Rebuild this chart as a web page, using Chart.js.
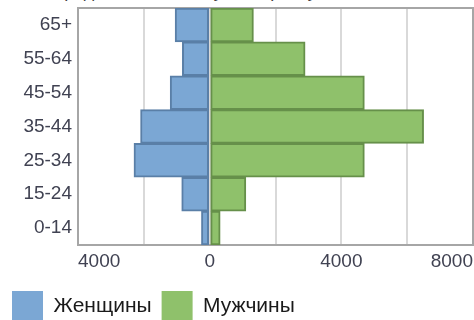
<!DOCTYPE html>
<html>
<head>
<meta charset="utf-8">
<script src="https://cdn.jsdelivr.net/npm/chart.js@4"></script>
<style>
  html, body { margin: 0; padding: 0; background: #fff; }
  #wrap { position: relative; width: 474px; height: 320px; overflow: hidden; }
  #title { position: absolute; left: 24px; top: -19px; font: 18px "Liberation Sans", Arial, sans-serif; color: #404040; white-space: nowrap; }
  #chart { position: absolute; left: 0; top: 0; }
</style>
</head>
<body>
<div id="wrap">
  <div id="title">Распределение по полу и возрасту, тыс. чел.</div>
  <canvas id="chart" width="474" height="332"></canvas>
</div>
<script>
// возрастные группы (сверху вниз)
const ageGroups = ['65+', '55-64', '45-54', '35-44', '25-34', '15-24', '0-14'];
// тыс. чел.
const women = [1050, 830, 1200, 2100, 2300, 850, 250];
const men = [1330, 2900, 4700, 6500, 4700, 1100, 320];
const xTicks = [-4000, 0, 4000, 8000];

const FONT = '"Liberation Sans", Arial, sans-serif';

// рамка области построения
const frame = {
    id: 'frame',
    beforeDatasetsDraw(chart) {
        const a = chart.chartArea;
        const ctx = chart.ctx;
        ctx.save();
        ctx.strokeStyle = '#a6a6a6';
        ctx.lineWidth = 2;
        ctx.strokeRect(a.left, a.top, a.right - a.left, a.bottom - a.top);
        ctx.restore();
    }
};

new Chart(document.getElementById('chart'), {
    type: 'bar',
    data: {
        labels: ageGroups,
        datasets: [
            {
                label: 'Женщины',
                data: women.map(v => -v),
                backgroundColor: '#7ba7d4',
                borderColor: '#5a7fa7',
                borderWidth: 2,
                borderSkipped: false
            },
            {
                label: 'Мужчины',
                data: men,
                backgroundColor: '#8fc16b',
                borderColor: '#66904a',
                borderWidth: 2,
                borderSkipped: false
            }
        ]
    },
    options: {
        indexAxis: 'y',
        responsive: false,
        animation: false,
        layout: { padding: { left: 2, right: 1, top: 8, bottom: 0 } },
        datasets: { bar: { barPercentage: 1, categoryPercentage: 1 } },
        scales: {
            x: {
                stacked: true,
                min: xTicks[0],
                max: xTicks[xTicks.length - 1],
                afterFit: s => { s.height = 36; s.paddingLeft = 0; s.paddingRight = 0; },
                border: { display: false },
                grid: { color: '#d9d9d9', lineWidth: 2, drawTicks: false },
                ticks: {
                    stepSize: 2000,
                    align: 'inner',
                    padding: 5,
                    color: '#404252',
                    font: { family: FONT, size: 19 },
                    callback: v => xTicks.includes(v) ? String(Math.abs(v)) : ''
                }
            },
            y: {
                stacked: true,
                afterFit: s => { s.width = 76; s.paddingTop = 0; s.paddingBottom = 0; },
                border: { display: false },
                grid: { display: false, drawTicks: false },
                ticks: {
                    padding: 6,
                    color: '#404252',
                    font: { family: FONT, size: 19 }
                }
            }
        },
        plugins: {
            tooltip: { enabled: false },
            legend: {
                position: 'bottom',
                align: 'start',
                labels: {
                    boxWidth: 31,
                    boxHeight: 31,
                    padding: 10,
                    color: '#1a1a1a',
                    font: { family: FONT, size: 21 },
                    generateLabels: chart => chart.data.datasets.map((d, i) => ({
                        text: d.label,
                        fillStyle: d.backgroundColor,
                        strokeStyle: d.backgroundColor,
                        lineWidth: 0,
                        fontColor: '#1a1a1a',
                        datasetIndex: i
                    }))
                }
            }
        }
    },
    plugins: [frame]
});
</script>
</body>
</html>
